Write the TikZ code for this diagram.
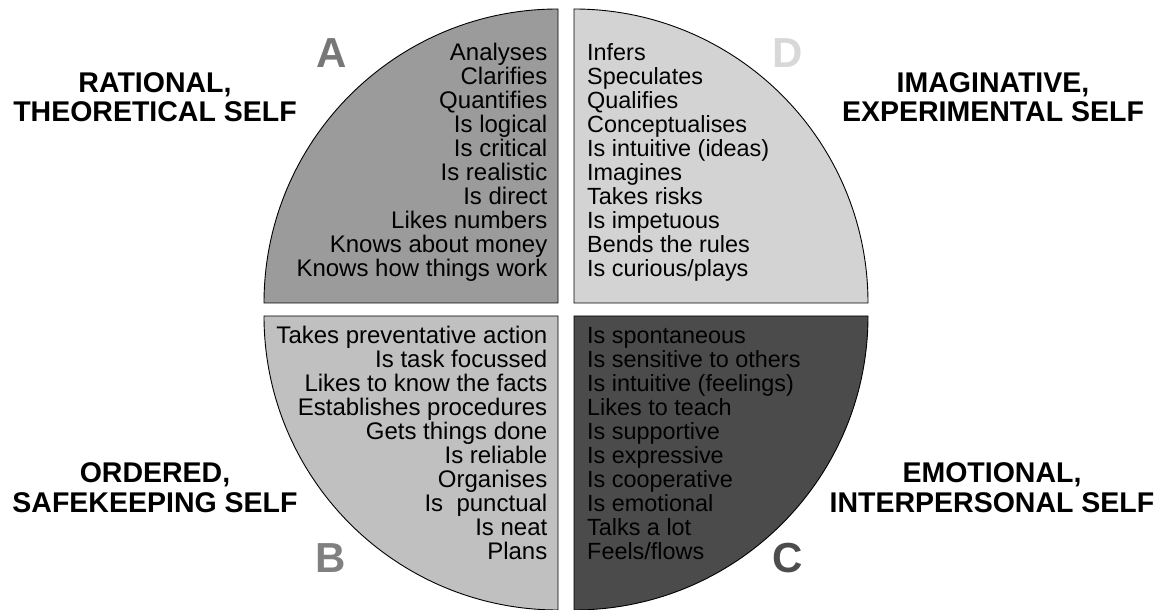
\documentclass[tikz,border=0pt]{standalone}
\usepackage{fontspec}
\setmainfont{Liberation Sans}
\definecolor{qa}{HTML}{9B9B9B}
\definecolor{qb}{HTML}{C0C0C0}
\definecolor{qc}{HTML}{4B4B4B}
\definecolor{qd}{HTML}{D3D3D3}
\definecolor{la}{HTML}{777777}
\definecolor{lb}{HTML}{808080}
\definecolor{lc}{HTML}{4D4D4D}
\definecolor{ld}{HTML}{D8D8D8}
\begin{document}
\begin{tikzpicture}[x=1pt,y=1pt,
  quad/.style={draw=black,line width=0.9pt},
  itemr/.style={inner sep=0pt,anchor=base east,font=\fontsize{24}{24}\selectfont},
  iteml/.style={inner sep=0pt,anchor=base west,font=\fontsize{23.4}{24}\selectfont},
  selflabel/.style={inner sep=0pt,anchor=base,font=\fontsize{28.5}{29}\selectfont\bfseries},
  bigletter/.style={inner sep=0pt,anchor=base,font=\fontsize{42}{42}\selectfont\bfseries}]
\useasboundingbox (0,0) rectangle (1164,610);
% quadrants
\draw[quad,fill=qa] (558,307) -- ++(-294,0) arc[start angle=180,end angle=90,radius=294pt] -- cycle;
\draw[quad,fill=qd] (574,307) -- ++(0,294) arc[start angle=90,end angle=0,radius=294pt] -- cycle;
\draw[quad,fill=qb] (558,294) -- ++(-294,0) arc[start angle=180,end angle=270,radius=294pt] -- cycle;
\draw[quad,fill=qc] (574,294) -- ++(294,0) arc[start angle=0,end angle=-90,radius=294pt] -- cycle;
% A items
\foreach \t [count=\i] in {Analyses,Clarifies,Quantifies,Is logical,Is critical,Is realistic,Is direct,Likes numbers,Knows about money,Knows how things work}
  \node[itemr] (a\i) at (547.5,{549-24*(\i-1)}) {\t};
% D items
\foreach \t [count=\i] in {Infers,Speculates,Qualifies,Conceptualises,Is intuitive (ideas),Imagines,Takes risks,Is impetuous,Bends the rules,Is curious/plays}
  \node[iteml] (d\i) at (587,{549-24*(\i-1)}) {\t};
% B items
\foreach \t [count=\i] in {Takes preventative action,Is task focussed,Likes to know the facts,Establishes procedures,Gets things done,Is reliable,Organises,Is\ \ punctual,Is neat,Plans}
  \node[itemr] (b\i) at (547.5,{266-24*(\i-1)}) {\t};
% C items
\foreach \t [count=\i] in {Is spontaneous,Is sensitive to others,Is intuitive (feelings),Likes to teach,Is supportive,Is expressive,Is cooperative,Is emotional,Talks a lot,Feels/flows}
  \node[iteml] (c\i) at (587,{266-24*(\i-1)}) {\t};
% big letters
\node[bigletter,text=la] (LA) at (332,542) {A};
\node[bigletter,text=ld] (LD) at (787.5,542) {D};
\node[bigletter,text=lb] (LB) at (331,37) {B};
\node[bigletter,text=lc] (LC) at (787.5,37) {C};
% self labels
\node[selflabel] (ra1) at (155,517) {RATIONAL,};
\node[selflabel] (ra2) at (155,488) {THEORETICAL SELF};
\node[selflabel] (im1) at (993,517) {IMAGINATIVE,};
\node[selflabel] (im2) at (993,488) {EXPERIMENTAL SELF};
\node[selflabel] (or1) at (155,127) {ORDERED,};
\node[selflabel] (or2) at (155,97) {SAFEKEEPING SELF};
\node[selflabel] (em1) at (992,127) {EMOTIONAL,};
\node[selflabel] (em2) at (992,97) {INTERPERSONAL SELF};
\end{tikzpicture}
\end{document}
